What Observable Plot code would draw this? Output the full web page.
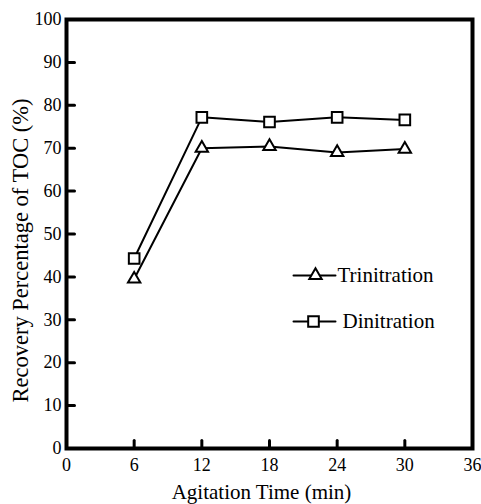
<!DOCTYPE html>
<html><head><meta charset="utf-8">
<script src="https://cdn.jsdelivr.net/npm/d3@7"></script>
<script src="https://cdn.jsdelivr.net/npm/@observablehq/plot@0.6"></script>
<style>
body{margin:0;background:#fff}
#chart svg text, #chart svg tspan{font-family:"Liberation Serif","Tinos","Times New Roman","Nimbus Roman","DejaVu Serif",serif !important;}
</style>
</head><body><div id="chart"></div>
<script>
const times = [6, 12, 18, 24, 30];
const trinitration = [39.5, 70.0, 70.4, 69.0, 69.8];
const dinitration = [44.3, 77.2, 76.1, 77.2, 76.6];
const xTicks = [0, 6, 12, 18, 24, 30, 36];
const yTicks = [0, 10, 20, 30, 40, 50, 60, 70, 80, 90, 100];
const seriesNames = ["Trinitration", "Dinitration"];
const seriesSymbols = ["triangle", "square"];
const xLabel = "Agitation Time (min)";
const yLabel = "Recovery Percentage of TOC (%)";
const serif = "Liberation Serif, Tinos, Times New Roman, DejaVu Serif, serif";

const rows = [];
[trinitration, dinitration].forEach((vals, s) => {
  times.forEach((t, i) => rows.push({series: seriesNames[s], t, v: vals[i]}));
});

const lineShape = {draw(ctx, l) { ctx.moveTo(0, 0); ctx.lineTo(0, -l); }};
const radius = {triangle: 4.6, square: 6.0};

function legendEntry(i, lineDx, dotDx, textDx, dy) {
  return [
    Plot.vector([0], {frameAnchor: "top-left", dx: lineDx, dy, rotate: 90, length: 42, anchor: "start",
      shape: lineShape, stroke: "black", strokeWidth: 2}),
    Plot.dot([0], {frameAnchor: "top-left", dx: dotDx, dy, symbol: seriesSymbols[i], r: radius[seriesSymbols[i]],
      fill: "white", stroke: "black", strokeWidth: 2}),
    Plot.text([seriesNames[i]], {frameAnchor: "top-left", dx: textDx, dy, text: d => d, textAnchor: "start",
      lineAnchor: "middle", fontSize: 21, fill: "black", fontFamily: serif})
  ];
}

const plot = Plot.plot({
  width: 481,
  height: 504,
  marginLeft: 66,
  marginRight: 9,
  marginTop: 19,
  marginBottom: 56,
  style: {fontFamily: serif, fontSize: "18px", color: "black", background: "white"},
  x: {domain: [0, 36]},
  y: {domain: [0, 100]},
  marks: [
    Plot.axisX({ticks: xTicks, tickSize: 0, tickPadding: 10, label: null, fontSize: 18, fontFamily: serif}),
    Plot.axisY({ticks: yTicks, tickSize: 0, tickPadding: 5, label: null, fontSize: 18, fontFamily: serif}),
    Plot.vector(xTicks.slice(1, -1), {x: d => d, frameAnchor: "bottom", length: 8, anchor: "start",
      shape: lineShape, stroke: "black", strokeWidth: 3}),
    Plot.vector(yTicks.slice(1, -1), {y: d => d, frameAnchor: "left", rotate: 90, length: 8, anchor: "start",
      shape: lineShape, stroke: "black", strokeWidth: 3}),
    Plot.frame({stroke: "black", strokeWidth: 4}),
    Plot.line(rows, {x: "t", y: "v", z: "series", stroke: "black", strokeWidth: 2}),
    Plot.dot(rows, {x: "t", y: "v", symbol: d => d.series === seriesNames[0] ? "triangle" : "square",
      r: d => d.series === seriesNames[0] ? radius.triangle : radius.square,
      fill: "white", stroke: "black", strokeWidth: 2}),
    ...legendEntry(0, 227, 249, 271, 256),
    ...legendEntry(1, 227, 247, 276, 302),
    Plot.text([xLabel], {frameAnchor: "bottom", dx: -8, dy: 44, text: d => d, textAnchor: "middle",
      lineAnchor: "middle", fontSize: 21, fill: "black", fontFamily: serif}),
    Plot.text([yLabel], {frameAnchor: "left", dx: -46, dy: 16.5, rotate: -90, text: d => d, textAnchor: "middle",
      lineAnchor: "middle", fontSize: 22.5, fill: "black", fontFamily: serif})
  ],
  symbol: {type: "identity"},
  r: {type: "identity"}
});
document.getElementById("chart").appendChild(plot);
</script></body></html>
